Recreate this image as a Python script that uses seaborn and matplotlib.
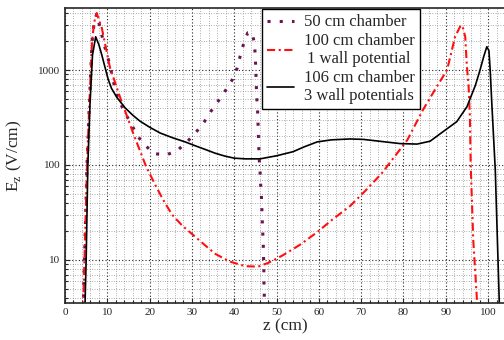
import matplotlib
matplotlib.use("Agg")
import matplotlib.pyplot as plt
import matplotlib.ticker as mticker
import seaborn as sns

# 50 cm chamber
z50 = [4.3, 4.6, 5.2, 5.7, 6.1, 6.4, 6.9, 7.5, 8.3, 9.0, 10.0, 10.6, 11.3, 12.5, 14.2,
       15.6, 17.0, 18.9, 21.0, 23.9, 26.7, 29.0, 31.0, 32.9, 34.5, 36.2, 38.0, 39.5,
       40.7, 41.4, 42.2, 43.2, 44.3, 44.8, 45.0, 45.1, 45.2, 45.3, 45.5, 45.6, 45.7,
       45.8, 45.9, 46.1, 46.2, 46.4, 46.5, 46.6, 46.7, 46.85, 46.9, 47.0, 47.0, 47.1, 47.1]
e50 = [3.0, 10, 100, 380, 1000, 2000, 3200, 3900, 2800, 2050, 1400, 1150, 790, 510, 350,
       275, 205, 162, 132, 127, 144, 178, 222, 284, 368, 470, 615, 785,
       1050, 1400, 1880, 2470, 2470, 1830, 1340, 980, 730, 530, 400, 292, 212,
       155, 116, 88, 66, 50, 38, 28, 21, 15.5, 11.5, 8.6, 6.2, 4.8, 3.0]

# 100 cm chamber, 1 wall potential
z100 = [4.3, 4.6, 5.2, 5.7, 6.1, 6.4, 6.9, 7.5, 8.7, 10.6, 13.0, 16.1, 19.1, 21.3, 23.2,
        25.3, 27.7, 30.3, 33.0, 35.5, 39.0, 42.6, 45.6, 48.0, 51.5, 55.6, 59.6, 63.1,
        67.4, 70.9, 74.9, 80.9, 84.6, 87.9, 90.3, 91.1, 92.2, 93.4, 93.9, 94.6, 95.0,
        95.4, 95.7, 95.9, 96.5, 97.1, 97.5]
e100 = [3.0, 10, 100, 380, 1000, 2000, 3200, 3950, 2770, 1075, 520, 217, 98, 62, 43,
        30, 23, 18.3, 14.4, 11.6, 9.6, 8.6, 8.5, 9.3, 11.2, 14.5, 19.6, 26.4,
        37, 53, 82, 183, 380, 670, 1000, 1400, 2240, 2870, 2950, 2240, 1080,
        670, 320, 98, 16, 6, 3.0]

# 106 cm chamber, 3 wall potentials
z106 = [4.7, 5.0, 5.4, 5.9, 6.5, 7.25, 8.0, 8.7, 9.5, 10.2, 11.0, 12.2, 13.2, 14.2, 16.0,
        17.7, 20.0, 22.5, 25.5, 28.4, 31.0, 33.1, 35.5, 37.8, 40.0, 42.6, 46.1, 50.0,
        53.9, 56.5, 59.6, 63.0, 67.4, 70.5, 73.8, 79.2, 83.2, 86.3, 89.4, 92.6, 95.0,
        97.0, 98.1, 99.0, 99.7, 100.2, 100.5, 100.9, 101.7, 102.7]
e106 = [3.0, 10, 100, 430, 1440, 2240, 1850, 1440, 1050, 800, 640, 520, 455, 400, 335,
        290, 250, 217, 193, 175, 158, 146, 133, 124, 118, 116, 116, 125,
        138, 155, 175, 184, 188, 186, 179, 168, 166, 178, 225, 286, 410,
        690, 1000, 1400, 1760, 1600, 1000, 430, 89, 3.0]

sns.set_style("ticks")
plt.rcParams['font.family'] = ['Liberation Serif', 'DejaVu Serif']
plt.rcParams['mathtext.fontset'] = 'custom'
plt.rcParams['mathtext.rm'] = 'Liberation Serif'

fig = plt.figure(figsize=(5.04, 3.40), dpi=100)
ax = fig.add_axes([65 / 504, 37 / 340, 440 / 504, 295 / 340])

sns.lineplot(x=z50, y=e50, ax=ax, sort=False, estimator=None, color='#6b1454',
             linewidth=2.2, linestyle=(0, (1, 3)), label='50 cm chamber')
sns.lineplot(x=z100, y=e100, ax=ax, sort=False, estimator=None, color='#ff1010',
             linewidth=1.5, linestyle=(0, (3.9, 1.7, 1, 1.7)),
             label='100 cm chamber\n1 wall potential')
sns.lineplot(x=z106, y=e106, ax=ax, sort=False, estimator=None, color='black',
             linewidth=1.2, label='106 cm chamber\n3 wall potentials')

ax.set_yscale('log')
ax.set_xlim(0, 104)
ax.set_ylim(3.52, 4500)
ax.xaxis.set_major_locator(mticker.MultipleLocator(10))
ax.xaxis.set_minor_locator(mticker.MultipleLocator(2))
ax.yaxis.set_major_locator(mticker.LogLocator(base=10))
ax.yaxis.set_minor_locator(mticker.LogLocator(base=10, subs=range(2, 10)))
ax.yaxis.set_major_formatter(mticker.FuncFormatter(lambda v, p: f'{v:g}'))
ax.yaxis.set_minor_formatter(mticker.NullFormatter())

ax.grid(True, which='major', linestyle=(0, (1, 2)), color='#222222', linewidth=0.8)
ax.grid(True, which='minor', linestyle=(0, (1, 2.5)), color='#666666', linewidth=0.5)
ax.set_axisbelow(True)
ax.tick_params(which='both', direction='in', labelsize=8, width=0.8)
ax.tick_params(which='minor', length=2)
for s in ax.spines.values():
    s.set_linewidth(1.2)

ax.set_xlabel('z (cm)', fontsize=12.5, labelpad=1)
ax.set_ylabel(r'E$_{\rm z}$ (V/cm)', fontsize=12.5, labelpad=10)

leg = ax.legend(loc='upper left', bbox_to_anchor=(0.448, 0.995), fontsize=12,
                frameon=True, fancybox=False, framealpha=1, edgecolor='black',
                handlelength=1.6, handletextpad=0.6, borderpad=0.3,
                labelspacing=0.15, borderaxespad=0)
leg.get_frame().set_linewidth(1.0)
for t in leg.get_texts():
    t.set_multialignment('center')

fig.savefig('out.png', dpi=100)
